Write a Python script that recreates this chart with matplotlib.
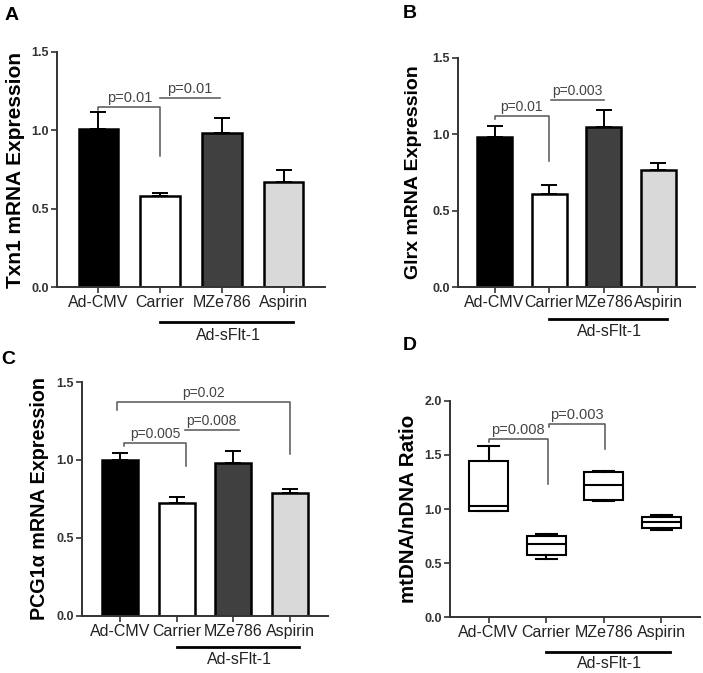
import matplotlib
matplotlib.use("Agg")
import matplotlib.pyplot as plt
from matplotlib import transforms

plt.rcParams['font.family'] = ['Liberation Sans', 'DejaVu Sans']

# Groups shared by all four panels
groups = ['Ad-CMV', 'Carrier', 'MZe786', 'Aspirin']
bar_colors = ['#000000', '#ffffff', '#404040', '#d9d9d9']

# Panel A - Txn1 mRNA (mean, upper error)
txn1_mean = [1.01, 0.58, 0.98, 0.67]
txn1_err = [0.11, 0.02, 0.10, 0.08]

# Panel B - Glrx mRNA
glrx_mean = [0.98, 0.61, 1.05, 0.765]
glrx_err = [0.075, 0.055, 0.11, 0.045]

# Panel C - PCG1a mRNA
pcg_mean = [1.0, 0.725, 0.98, 0.79]
pcg_err = [0.045, 0.04, 0.08, 0.022]

# Panel D - mtDNA/nDNA ratio (box stats)
mt_min = [0.98, 0.54, 1.07, 0.81]
mt_q1 = [0.98, 0.57, 1.085, 0.825]
mt_med = [1.03, 0.675, 1.22, 0.88]
mt_q3 = [1.445, 0.75, 1.34, 0.925]
mt_max = [1.585, 0.77, 1.355, 0.945]

# Significance brackets: (x left, x right, y, left leg end, right leg end, label)
sig_a = [(0.0, 1.0, 1.15, 1.13, 0.835, 'p=0.01'),
         (1.0, 1.97, 1.205, 1.205, 1.205, 'p=0.01')]
sig_b = [(0.0, 1.0, 1.117, 1.10, 0.828, 'p=0.01'),
         (1.04, 2.0, 1.222, 1.222, 1.222, 'p=0.003')]
sig_c = [(-0.05, 3.0, 1.37, 1.32, 1.04, 'p=0.02'),
         (0.07, 1.17, 1.108, 1.09, 0.962, 'p=0.005'),
         (1.14, 2.1, 1.194, 1.194, 1.194, 'p=0.008')]
sig_d = [(0.0, 1.03, 1.649, 1.62, 1.233, 'p=0.008'),
         (1.05, 2.02, 1.784, 1.76, 1.556, 'p=0.003')]

W, H = 703, 673
fig = plt.figure(figsize=(W / 100, H / 100), dpi=100)


def px_axes(left, right, bottom, top):
    return fig.add_axes([left / W, 1 - bottom / H, (right - left) / W, (bottom - top) / H])


def style_axis(ax, ymax, yticks, ylabel, label_x, label_fs):
    for s in ['top', 'right']:
        ax.spines[s].set_visible(False)
    for s in ['left', 'bottom']:
        ax.spines[s].set_linewidth(1.4)
        ax.spines[s].set_color('#333333')
    ax.set_xlim(-0.67, 3.67)
    ax.set_ylim(0, ymax)
    ax.set_yticks(yticks)
    ax.set_yticklabels([f"{t:.1f}" for t in yticks], fontsize=9, fontweight='bold', color='#333333')
    ax.set_xticks(range(len(groups)))
    ax.set_xticklabels(groups, fontsize=11.5, color='#222222')
    ax.tick_params(direction='out', length=4, width=1.2, color='#333333', pad=2)
    ax.set_ylabel(ylabel, fontsize=label_fs, fontweight='bold')
    ax.yaxis.set_label_coords(label_x, 0.5)


def draw_bars(ax, means, errs):
    x = range(len(groups))
    ax.bar(x, means, width=0.64, color=bar_colors, edgecolor='black', linewidth=1.8, zorder=2)
    ax.errorbar(x, means, yerr=[[0] * len(errs), errs], fmt='none', ecolor='black',
                elinewidth=1.4, capsize=6, capthick=1.4, zorder=3)


def draw_sig(ax, sigs, fs):
    for x1, x2, y, yl, yr, label in sigs:
        ax.plot([x1, x1, x2, x2], [yl, y, y, yr], color='#555555', lw=1.1, clip_on=False, zorder=4)
        ax.annotate(label, xy=((x1 + x2) / 2, y), xytext=(0, 1.5), textcoords='offset points',
                    ha='center', va='bottom', fontsize=fs, color='#444444')


def sflt_label(ax, line_dy, text_dy):
    trans = transforms.blended_transform_factory(ax.transData, ax.transAxes)
    tl = transforms.offset_copy(trans, fig=fig, y=-line_dy, units='dots')
    ax.plot([1.0, 3.15], [0, 0], transform=tl, color='black', lw=2, clip_on=False)
    tt = transforms.offset_copy(trans, fig=fig, y=-text_dy, units='dots')
    ax.text(2.1, 0, 'Ad-sFlt-1', transform=tt, ha='center', va='center', fontsize=11.5, color='#222222')


# Panel A
ax_a = px_axes(57, 325, 287, 52)
draw_bars(ax_a, txn1_mean, txn1_err)
style_axis(ax_a, 1.5, [0, 0.5, 1.0, 1.5], 'Txn1 mRNA Expression', -0.12, 15)
draw_sig(ax_a, sig_a, 10.5)
sflt_label(ax_a, 35, 48)

# Panel B
ax_b = px_axes(458, 695, 287, 58)
draw_bars(ax_b, glrx_mean, glrx_err)
style_axis(ax_b, 1.5, [0, 0.5, 1.0, 1.5], 'Glrx mRNA Expression', -0.15, 14)
draw_sig(ax_b, sig_b, 10)
sflt_label(ax_b, 32, 45)

# Panel C
ax_c = px_axes(82, 328, 616, 382)
draw_bars(ax_c, pcg_mean, pcg_err)
style_axis(ax_c, 1.5, [0, 0.5, 1.0, 1.5], 'PCG1\u03b1 mRNA Expression', -0.136, 14.2)
draw_sig(ax_c, sig_c, 10)
sflt_label(ax_c, 31, 44)

# Panel D
ax_d = px_axes(450, 700, 617, 401)
stats = []
for i in range(len(groups)):
    stats.append({'whislo': mt_min[i], 'q1': mt_q1[i], 'med': mt_med[i],
                  'q3': mt_q3[i], 'whishi': mt_max[i], 'fliers': []})
ax_d.bxp(stats, positions=range(len(groups)), widths=0.68, showfliers=False, patch_artist=True,
         boxprops=dict(facecolor='white', edgecolor='black', linewidth=1.5),
         medianprops=dict(color='black', linewidth=1.5),
         whiskerprops=dict(color='black', linewidth=1.5),
         capprops=dict(color='black', linewidth=1.5), capwidths=0.36)
style_axis(ax_d, 2.0, [0, 0.5, 1.0, 1.5, 2.0], 'mtDNA/nDNA Ratio', -0.126, 14.8)
draw_sig(ax_d, sig_d, 10.5)
sflt_label(ax_d, 35, 47)

# Panel letters
for letter, (px, py) in zip('ABCD', [(12, 15), (410, 14), (8, 359), (410, 346)]):
    fig.text(px / W, 1 - py / H, letter, fontsize=14, fontweight='bold', ha='center', va='center')

fig.savefig('out.png', dpi=100)
